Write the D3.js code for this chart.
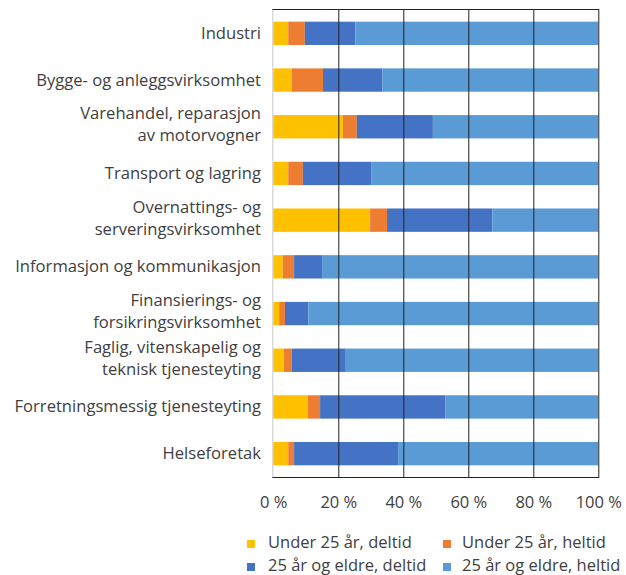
<!DOCTYPE html>
<html>
<head>
<meta charset="utf-8">
<script src="https://cdn.jsdelivr.net/npm/d3@7"></script>
<style>
  body { margin: 0; background: #fff; }
  svg text { font-family: "Open Sans", sans-serif; fill: #404040; }
</style>
</head>
<body>
<script>
// Chart data (share of employees, %)
const categories = [
  "Industri",
  "Bygge- og anleggsvirksomhet",
  "Varehandel, reparasjon\nav motorvogner",
  "Transport og lagring",
  "Overnattings- og\nserveringsvirksomhet",
  "Informasjon og kommunikasjon",
  "Finansierings- og\nforsikringsvirksomhet",
  "Faglig, vitenskapelig og\nteknisk tjenesteyting",
  "Forretningsmessig tjenesteyting",
  "Helseforetak"
];
const seriesNames = ["Under 25 år, deltid", "Under 25 år, heltid", "25 år og eldre, deltid", "25 år og eldre, heltid"];
const under25Deltid = [4.6, 5.7, 21.4, 4.6, 29.8, 2.9, 1.8, 3.3, 10.6, 4.6];
const under25Heltid = [5.1, 9.6, 4.3, 4.5, 5.2, 3.5, 1.8, 2.4, 3.8, 1.8];
const over25Deltid  = [15.6, 18.2, 23.4, 21.0, 32.4, 8.6, 7.2, 16.6, 38.5, 32.0];
const over25Heltid  = [74.7, 66.5, 50.9, 69.9, 32.6, 85.0, 89.2, 77.7, 47.1, 61.6];
const tickValues = [0, 20, 40, 60, 80, 100];
const colors = ["#FFC000", "#ED7D31", "#4472C4", "#5B9BD5"];

const width = 626, height = 575;
const plotLeft = 273.3, plotRight = 598.3, plotTop = 10, plotBottom = 477;

const svg = d3.select("body").append("svg")
    .attr("width", width)
    .attr("height", height);

const rows = categories.map((c, i) => ({
  cat: c,
  s0: under25Deltid[i], s1: under25Heltid[i], s2: over25Deltid[i], s3: over25Heltid[i]
}));
const stack = d3.stack().keys(["s0", "s1", "s2", "s3"])(rows);

const x = d3.scaleLinear().domain([0, 100]).range([plotLeft, plotRight]);
const y = d3.scaleBand().domain(categories).range([plotTop, plotBottom])
    .paddingInner(0.5).paddingOuter(0.25);

// Bars
svg.append("g").selectAll("g")
    .data(stack)
    .join("g")
    .attr("fill", (d, i) => colors[i])
    .selectAll("rect")
    .data(d => d)
    .join("rect")
    .attr("x", d => x(d[0]))
    .attr("y", d => y(d.data.cat))
    .attr("width", d => x(d[1]) - x(d[0]))
    .attr("height", y.bandwidth());

// Vertical gridlines (drawn over bars like the reference)
svg.append("g").selectAll("line")
    .data(tickValues.slice(1))
    .join("line")
    .attr("x1", d => x(d) + 0.5).attr("x2", d => x(d) + 0.5)
    .attr("y1", plotTop).attr("y2", plotBottom)
    .attr("stroke", "#222").attr("stroke-width", 1);

// Left axis line and top/bottom frame
svg.append("line")
    .attr("x1", plotLeft - 0.5).attr("x2", plotLeft - 0.5)
    .attr("y1", plotTop).attr("y2", plotBottom)
    .attr("stroke", "#c8c8c8");
svg.append("line")
    .attr("x1", plotLeft - 1).attr("x2", plotRight + 1)
    .attr("y1", plotTop - 0.5).attr("y2", plotTop - 0.5)
    .attr("stroke", "#222");
svg.append("line")
    .attr("x1", plotLeft - 1).attr("x2", plotRight + 1)
    .attr("y1", plotBottom + 0.5).attr("y2", plotBottom + 0.5)
    .attr("stroke", "#222");

// X axis tick labels
const xAxis = d3.axisBottom(x).tickValues(tickValues)
    .tickFormat(d => d + " %").tickSize(0).tickPadding(0);
const gx = svg.append("g").attr("transform", `translate(0,${plotBottom + 31})`).call(xAxis);
gx.select(".domain").remove();
gx.selectAll("text")
    .attr("dy", 0)
    .style("font-size", "16.5px")
    .style("font-family", "Open Sans, sans-serif")
    .attr("fill", "#404040");

// Category labels
const labels = svg.append("g").selectAll("text")
    .data(categories)
    .join("text")
    .attr("text-anchor", "end")
    .style("font-size", "16.6px");
labels.each(function(d) {
  const lines = d.split("\n");
  const t = d3.select(this);
  lines.forEach((ln, i) => {
    const off = lines.length === 1 ? 5.5 : (i === 0 ? -7.5 : 14.5);
    t.append("tspan").attr("x", 261)
      .attr("y", y(d) + y.bandwidth() / 2 + off)
      .text(ln);
  });
});

// Legend
const legendPos = [[247, 540], [443, 540], [247, 563], [443, 563]];
const legend = svg.append("g").selectAll("g")
    .data(seriesNames)
    .join("g")
    .attr("transform", (d, i) => `translate(${legendPos[i][0]},${legendPos[i][1]})`);
legend.append("rect")
    .attr("width", 8).attr("height", 8)
    .attr("fill", (d, i) => colors[i]);
legend.append("text")
    .attr("x", (d, i) => i % 2 ? 19 : 21).attr("y", 8)
    .style("font-size", "16.5px")
    .text(d => d);
</script>
</body>
</html>
